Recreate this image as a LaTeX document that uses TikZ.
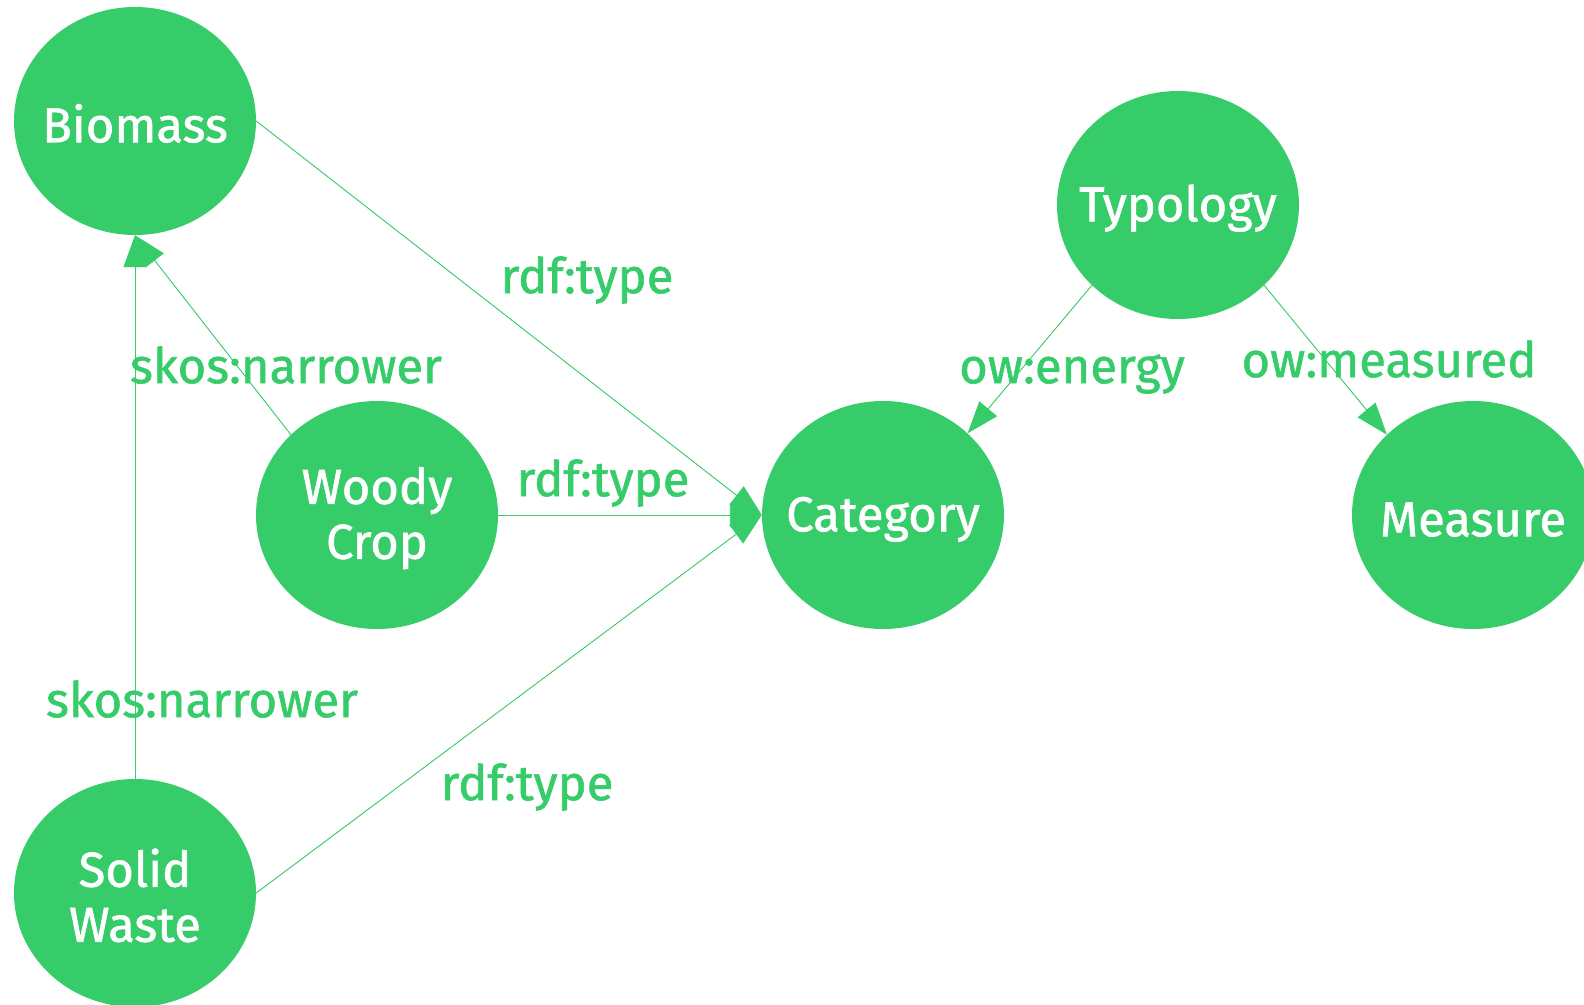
\documentclass[tikz,border=0pt]{standalone}
\usepackage{fontspec}
\setmainfont{Fira Sans}[UprightFeatures={FakeBold=1.2}]
\usetikzlibrary{shapes.geometric,arrows.meta}
\definecolor{grn}{RGB}{55,204,106}
\newcommand\ctext[1]{\makebox[0pt][c]{#1}}
\newcommand\ctop[1]{\makebox[0pt][c]{\rule{0pt}{43pt}#1}}
\tikzset{
  ent/.style={ellipse, fill=grn, draw=none, minimum width=242pt, minimum height=228pt, inner sep=0pt, text=white, align=center, font=\fontsize{49}{55}\selectfont},
  lbl/.style={text=grn, inner sep=0pt, font=\fontsize{49}{55}\selectfont},
  rel/.style={draw=grn, line width=0.9pt, -{Triangle[length=32pt,width=23pt]}, fill=grn}
}
\begin{document}
\begin{tikzpicture}[x=1pt,y=-1pt]
\useasboundingbox (0,0) rectangle (1584,1004);
\node[ent] (biomass) at (135,121) {\ctop{Biomass}};
\node[ent] (woody) at (377,515) {\ctop{Woody}\\\ctext{Crop}};
\node[ent] (category) at (883,515) {\ctop{Category}};
\node[ent] (typology) at (1178,205) {\ctop{Typology}};
\node[ent] (measure) at (1473,515) {\ctop{Measure}};
\node[ent] (solid) at (135,893) {\ctop{Solid}\\\ctext{Waste}};

\draw[rel] (biomass.east) -- (category.west);
\draw[rel] (woody.east) -- (category.west);
\draw[rel] (solid.east) -- (category.west);
\draw[rel] (woody.137) -- (biomass.south);
\draw[rel] (solid.north) -- (biomass.south);
\draw[rel] (typology.223) -- (category.44);
\draw[rel] (typology.317) -- (measure.137);

\node[lbl] (l1) at (587,280) {rdf:type};
\node[lbl] (l2) at (603,483) {rdf:type};
\node[lbl] (l3) at (527,787) {rdf:type};
\node[lbl] (l4) at (286,365) {skos:narrower};
\node[lbl] (l5) at (202,699) {skos:narrower};
\node[lbl] (l6) at (1072,374) {ow:energy};
\node[lbl] (l7) at (1389,359) {ow:measured};
\end{tikzpicture}
\end{document}
